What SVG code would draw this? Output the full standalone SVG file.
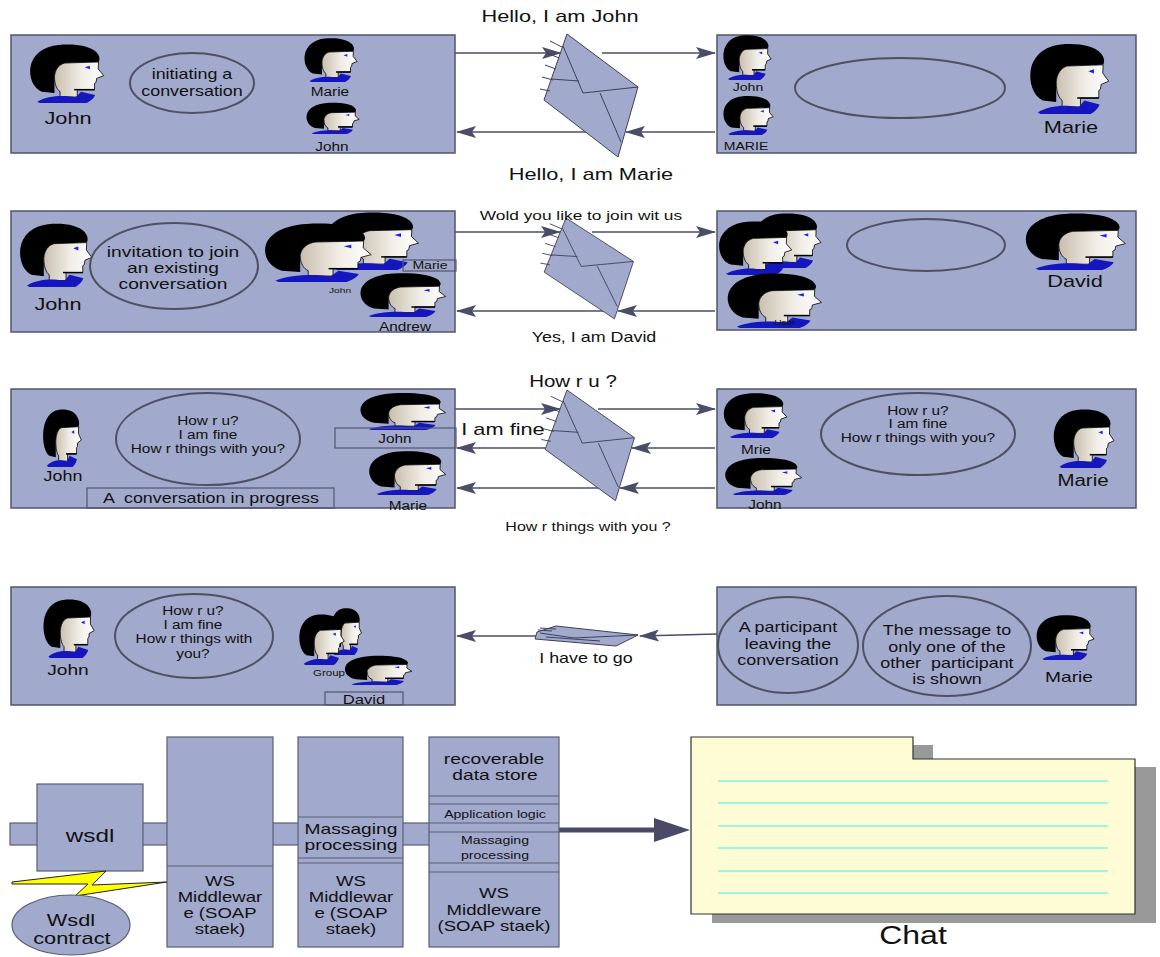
<svg xmlns="http://www.w3.org/2000/svg" xmlns:xlink="http://www.w3.org/1999/xlink" width="1160" height="957" viewBox="0 0 1160 957">
  <style>
    .panel { fill: #a1a9cc; stroke: #52566c; stroke-width: 1.5; }
    .bubble { fill: none; stroke: #4f5062; stroke-width: 2; }
    .lbl { fill: none; stroke: #52566c; stroke-width: 1.2; }
    .t { font-family: "Liberation Sans", Arial, sans-serif; fill: #111; text-anchor: middle;
         transform-box: fill-box; transform-origin: center; transform: scaleX(1.28); }
    .conn { stroke: #4a4d66; stroke-width: 1.6; fill: none; marker-end: url(#arrow); }
    .env { fill: #a1a9cc; stroke: #3d4157; stroke-width: 1; stroke-linejoin: round; }
    .envline { fill: none; stroke: #3d4157; stroke-width: 1; }
    .box { fill: #a1a9cc; stroke: #5a5e74; stroke-width: 1.2; }
    .div { stroke: #5a5e74; stroke-width: 1; }
    .rule { stroke: #40f0e4; stroke-width: 1.2; }
  </style>
  <defs>
    <linearGradient id="skin" x1="0" y1="0" x2="1" y2="0">
      <stop offset="0" stop-color="#c9bfae"/>
      <stop offset="0.55" stop-color="#f1ede6"/>
      <stop offset="1" stop-color="#ffffff"/>
    </linearGradient>
    <marker id="arrow" markerUnits="userSpaceOnUse" markerWidth="20" markerHeight="12" refX="19" refY="6" orient="auto">
      <path d="M0,0 L20,6 L0,12 L4,6 Z" fill="#4a4d66"/>
    </marker>
    <!-- profile head used for every participant -->
    <symbol id="person" viewBox="0 0 250 180" preserveAspectRatio="none">
      <path d="M45,146 C15,135 3,100 8,72 C15,35 50,10 100,6 C150,2 200,8 222,28 C234,40 234,50 229,57 L120,60 C100,66 88,80 86,100 L86,150 Z" fill="#000"/>
      <path d="M86,100 C88,80 100,64 120,60 L229,57 L228,78 L246,98 L223,106 L221,118 L216,121 L216,140 L160,140 L160,162 L104,162 L104,146 C94,140 86,125 86,100 Z" fill="url(#skin)" stroke="#000" stroke-width="0.8" vector-effect="non-scaling-stroke"/>
      <path d="M150,140 L216,140" stroke="#000" stroke-width="1.5" vector-effect="non-scaling-stroke"/>
      <path d="M184,73 L201,68 L201,79 Z" fill="#1a1aff"/>
      <path d="M30,176 C58,161 100,157 130,160 L155,163 L172,146 L218,156 C213,168 201,175 191,180 L38,180 Z" fill="#1616bf"/>
    </symbol>
    <!-- tilted envelope, origin at its top corner -->
    <g id="envelope">
      <path class="env" d="M0,0 L71,53 L51,123 L-23,66 Z"/>
      <path class="envline" d="M-4,12 L16,59 L71,53 M-16,45 L12,47 M33,59 L54,108"/>
      <path class="envline" stroke-width="0.7" d="M-17,7 L-5,13 M-20,19 L-8,24 M-22,31 L-11,35 M-25,43 L-14,46 M-27,55 L-17,57"/>
    </g>
  </defs>

  <rect width="1160" height="957" fill="#fff"/>

  <!-- connectors -->
  <g id="connectors">
    <path class="conn" d="M455,53 L561,53"/>
    <path class="conn" d="M602,53 L715,53"/>
    <path class="conn" d="M715,132 L626,132"/>
    <path class="conn" d="M590,132 L457,132"/>

    <path class="conn" d="M455,232 L560,232"/>
    <path class="conn" d="M592,232 L715,232"/>
    <path class="conn" d="M715,311 L618,311"/>
    <path class="conn" d="M605,311 L457,311"/>

    <path class="conn" d="M455,409 L560,409"/>
    <path class="conn" d="M598,409 L715,409"/>
    <path class="conn" d="M715,448 L632,448"/>
    <path class="conn" d="M560,448 L457,448"/>
    <path class="conn" d="M715,488 L620,488"/>
    <path class="conn" d="M600,488 L457,488"/>

    <path class="conn" d="M717,634 L640,636"/>
    <path class="conn" d="M560,636 L457,636"/>

    <path d="M558,830 L660,830" stroke="#4a4a66" stroke-width="5"/>
    <path d="M654,818 L690,830 L654,842 Z" fill="#4a4a66"/>
  </g>

  <!-- message envelopes -->
  <g id="env-1"><use href="#envelope" transform="translate(567,34)"/></g>
  <g id="env-2"><use href="#envelope" transform="translate(566,218) scale(0.95,0.82)"/></g>
  <g id="env-3"><use href="#envelope" transform="translate(567,390) scale(0.95,0.9)"/></g>
  <g id="env-4">
    <path class="env" d="M537,632 L556,626 L638,635 L616,646 L535,639 Z"/>
    <path class="envline" d="M540,633 L574,638 L638,635 M546,637 L600,641"/>
    <path class="envline" stroke-width="0.7" d="M540,628 L556,629 M538,630 L552,631"/>
  </g>

  <!-- message captions -->
  <g id="captions">
    <text class="t" x="560" y="22" font-size="17">Hello, I am John</text>
    <text class="t" x="591" y="180" font-size="17">Hello, I am Marie</text>
    <text class="t" x="581" y="220" font-size="13.5">Wold you like to join wit us</text>
    <text class="t" x="594" y="342" font-size="14">Yes, I am David</text>
    <text class="t" x="573" y="387" font-size="16">How r u ?</text>
    <text class="t" x="503" y="435" font-size="17">I am fine</text>
    <text class="t" x="588" y="531" font-size="12.5">How r things with you ?</text>
    <text class="t" x="586" y="663" font-size="14">I have to go</text>
  </g>

  <!-- row 1 -->
  <g id="r1-left">
    <rect class="panel" x="11" y="35" width="444" height="118"/>
    <use href="#person" x="28" y="43" width="77" height="60"/>
    <text class="t" x="68" y="124" font-size="17">John</text>
    <ellipse class="bubble" cx="192" cy="83" rx="62" ry="30"/>
    <text class="t" x="192" y="79" font-size="14">initiating a</text>
    <text class="t" x="192" y="96" font-size="14">conversation</text>
    <use href="#person" x="303" y="37" width="55" height="45"/>
    <text class="t" x="330" y="96" font-size="12">Marie</text>
    <use href="#person" x="305" y="102" width="55" height="32"/>
    <text class="t" x="332" y="151" font-size="12">John</text>
  </g>
  <g id="r1-right">
    <rect class="panel" x="717" y="35" width="419" height="118"/>
    <use href="#person" x="722" y="34" width="50" height="46"/>
    <text class="t" x="748" y="91" font-size="11">John</text>
    <use href="#person" x="722" y="95" width="52" height="40"/>
    <text class="t" x="746" y="150" font-size="11">MARIE</text>
    <ellipse class="bubble" cx="900" cy="88" rx="105" ry="30"/>
    <use href="#person" x="1028" y="42" width="82" height="72"/>
    <text class="t" x="1071" y="133" font-size="17">Marie</text>
  </g>

  <!-- row 2 -->
  <g id="r2-left">
    <rect class="panel" x="11" y="211" width="444" height="121"/>
    <use href="#person" x="18" y="222" width="75" height="65"/>
    <text class="t" x="58" y="310" font-size="17">John</text>
    <ellipse class="bubble" cx="174" cy="266" rx="84" ry="43"/>
    <text class="t" x="173" y="257" font-size="15">invitation to join</text>
    <text class="t" x="173" y="273" font-size="15">an existing</text>
    <text class="t" x="173" y="289" font-size="15">conversation</text>
    <use href="#person" x="323" y="211" width="97" height="59"/>
    <use href="#person" x="262" y="222" width="111" height="60"/>
    <text class="t" x="340" y="293" font-size="8">John</text>
    <rect class="lbl" x="403" y="260" width="53" height="11"/>
    <text class="t" x="430" y="269.5" font-size="11">Marie</text>
    <use href="#person" x="358" y="272" width="89" height="45"/>
    <text class="t" x="405" y="331" font-size="12">Andrew</text>
  </g>
  <g id="r2-right">
    <rect class="panel" x="717" y="211" width="419" height="119"/>
    <use href="#person" x="752" y="212" width="70" height="56"/>
    <use href="#person" x="717" y="220" width="76" height="55"/>
    <use href="#person" x="725" y="272" width="98" height="56"/>
    <text class="t" x="785" y="325" font-size="8">User</text>
    <ellipse class="bubble" cx="926" cy="245" rx="79" ry="26"/>
    <use href="#person" x="1023" y="212" width="104" height="58"/>
    <text class="t" x="1075" y="287" font-size="17">David</text>
  </g>

  <!-- row 3 -->
  <g id="r3-left">
    <rect class="panel" x="11" y="389" width="444" height="119"/>
    <use href="#person" x="42" y="408" width="40" height="59"/>
    <text class="t" x="63" y="481" font-size="14">John</text>
    <ellipse class="bubble" cx="208" cy="439" rx="92" ry="46"/>
    <text class="t" x="208" y="425" font-size="12">How r u?</text>
    <text class="t" x="208" y="439" font-size="12">I am fine</text>
    <text class="t" x="208" y="453" font-size="12">How r things with you?</text>
    <rect class="lbl" x="87" y="488" width="247" height="20"/>
    <text class="t" x="211" y="503" font-size="14" xml:space="preserve">A  conversation in progress</text>
    <use href="#person" x="358" y="392" width="89" height="38"/>
    <rect class="lbl" x="335" y="428" width="121" height="20"/>
    <text class="t" x="395" y="443" font-size="12">John</text>
    <use href="#person" x="367" y="450" width="80" height="45"/>
    <text class="t" x="408" y="510" font-size="12">Marie</text>
  </g>
  <g id="r3-right">
    <rect class="panel" x="717" y="389" width="419" height="119"/>
    <use href="#person" x="722" y="392" width="66" height="46"/>
    <text class="t" x="756" y="454" font-size="12">Mrie</text>
    <use href="#person" x="723" y="457" width="80" height="38"/>
    <text class="t" x="765" y="509" font-size="12">John</text>
    <ellipse class="bubble" cx="918" cy="434" rx="97" ry="41"/>
    <text class="t" x="918" y="415" font-size="12">How r u?</text>
    <text class="t" x="918" y="428" font-size="12">I am fine</text>
    <text class="t" x="918" y="442" font-size="12">How r things with you?</text>
    <use href="#person" x="1052" y="408" width="63" height="60"/>
    <text class="t" x="1083" y="486" font-size="16">Marie</text>
  </g>

  <!-- row 4 -->
  <g id="r4-left">
    <rect class="panel" x="11" y="587" width="444" height="118"/>
    <use href="#person" x="42" y="598" width="53" height="60"/>
    <text class="t" x="68" y="675" font-size="15">John</text>
    <ellipse class="bubble" cx="194" cy="636" rx="79" ry="42"/>
    <text class="t" x="193" y="615" font-size="12">How r u?</text>
    <text class="t" x="193" y="629" font-size="12">I am fine</text>
    <text class="t" x="194" y="643" font-size="12">How r things with</text>
    <text class="t" x="193" y="658" font-size="12">you?</text>
    <use href="#person" x="330" y="607" width="32" height="48"/>
    <use href="#person" x="298" y="613" width="47" height="52"/>
    <text class="t" x="329" y="676" font-size="9">Group</text>
    <use href="#person" x="343" y="655" width="70" height="30"/>
    <rect class="lbl" x="325" y="692" width="78" height="13"/>
    <text class="t" x="364" y="704" font-size="13">David</text>
  </g>
  <g id="r4-right">
    <rect class="panel" x="717" y="587" width="419" height="118"/>
    <ellipse class="bubble" cx="788" cy="645" rx="70" ry="48"/>
    <text class="t" x="788" y="632" font-size="14">A participant</text>
    <text class="t" x="788" y="649" font-size="14">leaving the</text>
    <text class="t" x="788" y="665" font-size="14">conversation</text>
    <ellipse class="bubble" cx="947" cy="646" rx="84" ry="50"/>
    <text class="t" x="947" y="635" font-size="14">The message to</text>
    <text class="t" x="947" y="652" font-size="14">only one of the</text>
    <text class="t" x="947" y="668" font-size="14" xml:space="preserve">other  participant</text>
    <text class="t" x="947" y="684" font-size="14">is shown</text>
    <use href="#person" x="1035" y="614" width="60" height="46"/>
    <text class="t" x="1069" y="682" font-size="15">Marie</text>
  </g>

  <!-- middleware stack -->
  <g id="bus">
    <rect class="box" x="10" y="823" width="425" height="22"/>
  </g>
  <g id="wsdl">
    <rect class="box" x="37" y="784" width="106" height="87"/>
    <text class="t" x="90" y="842" font-size="19">wsdl</text>
  </g>
  <g id="bolt">
    <path d="M12,882 L106,871 L92,885 L167,882 L75,896 L88,884 L12,884 Z" fill="#ffff00" stroke="#222" stroke-width="1"/>
  </g>
  <g id="wsdl-contract">
    <ellipse class="box" cx="71" cy="925" rx="59" ry="30"/>
    <text class="t" x="71" y="926" font-size="17">Wsdl</text>
    <text class="t" x="72" y="944" font-size="17">contract</text>
  </g>
  <g id="stack-1">
    <rect class="box" x="167" y="737" width="106" height="210"/>
    <line class="div" x1="167" y1="866" x2="273" y2="866"/>
    <text class="t" x="220" y="886" font-size="14.5">WS</text>
    <text class="t" x="220" y="902" font-size="14.5">Middlewar</text>
    <text class="t" x="220" y="918" font-size="14.5">e (SOAP</text>
    <text class="t" x="220" y="934" font-size="14.5">staek)</text>
  </g>
  <g id="stack-2">
    <rect class="box" x="298" y="737" width="105" height="210"/>
    <line class="div" x1="298" y1="817" x2="403" y2="817"/>
    <line class="div" x1="298" y1="858" x2="403" y2="858"/>
    <line class="div" x1="298" y1="863" x2="403" y2="863"/>
    <text class="t" x="351" y="834" font-size="15">Massaging</text>
    <text class="t" x="351" y="850" font-size="15">processing</text>
    <text class="t" x="351" y="886" font-size="14.5">WS</text>
    <text class="t" x="351" y="902" font-size="14.5">Middlewar</text>
    <text class="t" x="351" y="918" font-size="14.5">e (SOAP</text>
    <text class="t" x="351" y="934" font-size="14.5">staek)</text>
  </g>
  <g id="stack-3">
    <rect class="box" x="429" y="737" width="130" height="210"/>
    <line class="div" x1="429" y1="796" x2="559" y2="796"/>
    <line class="div" x1="429" y1="804" x2="559" y2="804"/>
    <line class="div" x1="429" y1="823" x2="559" y2="823"/>
    <line class="div" x1="429" y1="832" x2="559" y2="832"/>
    <line class="div" x1="429" y1="863" x2="559" y2="863"/>
    <line class="div" x1="429" y1="872" x2="559" y2="872"/>
    <text class="t" x="494" y="764" font-size="15">recoverable</text>
    <text class="t" x="495" y="780" font-size="15">data store</text>
    <text class="t" x="495" y="818" font-size="11">Application logic</text>
    <text class="t" x="495" y="844" font-size="11">Massaging</text>
    <text class="t" x="495" y="859" font-size="11">processing</text>
    <text class="t" x="494" y="898" font-size="14.5">WS</text>
    <text class="t" x="494" y="915" font-size="14.5">Middleware</text>
    <text class="t" x="494" y="931" font-size="14.5">(SOAP staek)</text>
  </g>

  <!-- chat folder -->
  <g id="chat">
    <rect x="913" y="745" width="20" height="16" fill="#999"/>
    <rect x="712" y="767" width="444" height="156" fill="#999"/>
    <path d="M691,737 L913,737 L913,759 L1135,759 L1135,914 L691,914 Z" fill="#fdfcd4" stroke="#333" stroke-width="1.2"/>
    <line class="rule" x1="718" y1="781" x2="1108" y2="781"/>
    <line class="rule" x1="718" y1="803" x2="1108" y2="803"/>
    <line class="rule" x1="718" y1="826" x2="1108" y2="826"/>
    <line class="rule" x1="718" y1="848" x2="1108" y2="848"/>
    <line class="rule" x1="718" y1="871" x2="1108" y2="871"/>
    <line class="rule" x1="718" y1="893" x2="1108" y2="893"/>
    <text class="t" x="913" y="944" font-size="25">Chat</text>
  </g>
</svg>
